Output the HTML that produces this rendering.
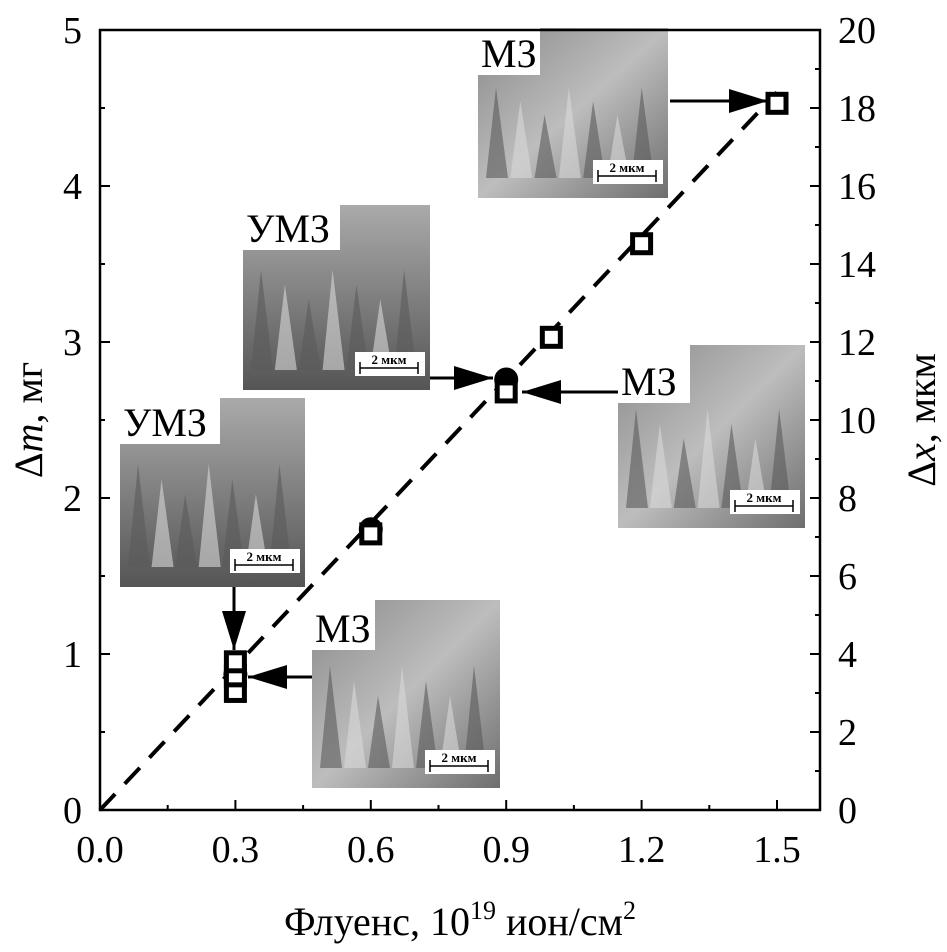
<!DOCTYPE html>
<html><head><meta charset="utf-8"><style>
body{margin:0;background:#fff}
svg{display:block;font-family:"Liberation Serif",serif}
</style></head><body>
<svg id="c" width="947" height="952" viewBox="0 0 947 952">
<defs>
<linearGradient id="g1" x1="0" y1="0" x2="1" y2="1"><stop offset="0" stop-color="#8a8a8a"/><stop offset="0.5" stop-color="#bdbdbd"/><stop offset="1" stop-color="#6e6e6e"/></linearGradient>
<linearGradient id="g2" x1="0" y1="0" x2="0" y2="1"><stop offset="0" stop-color="#aaa"/><stop offset="0.6" stop-color="#777"/><stop offset="1" stop-color="#555"/></linearGradient>
<marker id="ah" viewBox="0 0 10 10" refX="10" refY="5" markerWidth="13" markerHeight="8" orient="auto" markerUnits="strokeWidth" preserveAspectRatio="none"><path d="M0,0L10,5L0,10z" fill="#000"/></marker>
</defs>
<g id="insets"></g>
<g id="axes"></g>
<g id="marks"></g>
</svg>
<script>
const xTicks=[0.0,0.3,0.6,0.9,1.2,1.5];
const xTickLabels=["0.0","0.3","0.6","0.9","1.2","1.5"];
const yTicks=[0,1,2,3,4,5];
const y2Ticks=[0,2,4,6,8,10,12,14,16,18,20];
const sqX=[0.3,0.3,0.3,0.6,0.9,1.0,1.2,1.5];
const sqY=[0.76,0.86,0.95,1.77,2.68,3.03,3.63,4.53];
const ciX=[0.3,0.6,0.9];
const ciY=[0.87,1.8,2.76];
const fitX=[0,1.5];
const fitY=[0,4.6];
const NS="http://www.w3.org/2000/svg";
const X=v=>100+v*(677/1.5);
const Y=v=>810-v*156;
const Y2=v=>810-v*39;
function mk(t,a,p){const e=document.createElementNS(NS,t);for(const k in a)e.setAttribute(k,a[k]);p.appendChild(e);return e;}
const ax=document.getElementById('axes'),mg=document.getElementById('marks'),ins=document.getElementById('insets');
const defs=document.querySelector('defs');
const insetData=[[478,28,190,170,"МЗ",62,47,"g1"],[243,205,187,185,"УМЗ",97,45,"g2"],[618,345,187,183,"МЗ",72,58,"g1"],[120,398,185,189,"УМЗ",100,46,"g2"],[312,600,188,188,"МЗ",63,50,"g1"]];
insetData.forEach((d,i)=>{
 const cp=mk('clipPath',{id:'cp'+i},defs);
 mk('rect',{x:d[0],y:d[1],width:d[2],height:d[3]},cp);
 const g=mk('g',{'clip-path':'url(#cp'+i+')'},ins);
 
 
 mk('rect',{x:d[0],y:d[1],width:d[2],height:d[3],fill:'url(#'+d[7]+')'},g);
 for(let k=0;k<7;k++){const bx=d[0]+8+k*(d[2]-20)/7;const by=d[1]+d[3]*(0.35+0.08*(k%3));
  mk('path',{d:`M${bx},${d[1]+d[3]-20} L${bx+10},${by} L${bx+22},${d[1]+d[3]-20}z`,fill:k%2?'#d8d8d8':'#5a5a5a',opacity:0.6},g);}
 mk('rect',{x:d[0],y:d[1],width:d[5],height:d[6],fill:'#fff'},g);
 const t=mk('text',{x:d[0]+3,y:d[1]+d[6]-8,'font-size':40},g);t.textContent=d[4];
 const sx=d[0]+d[2]-70,sy=d[1]+d[3]-22;
 mk('rect',{x:sx-5,y:sy-16,width:70,height:24,fill:'#fff'},g);
 mk('path',{d:`M${sx},${sy} h58 M${sx},${sy-6} v12 M${sx+58},${sy-6} v12`,stroke:'#000','stroke-width':1.5},g);
 const s=mk('text',{x:sx+29,y:sy-4,'font-size':13,'font-weight':'bold','text-anchor':'middle'},g);s.textContent='2 мкм';
});
const fr=mk('rect',{x:100,y:30,width:720,height:780,fill:'none',stroke:'#000','stroke-width':2.5},ax);

xTicks.forEach((v,i)=>{mk('line',{x1:X(v),x2:X(v),y1:810,y2:800,stroke:'#000','stroke-width':2},ax);
 if(i<5)mk('line',{x1:X(v+0.15),x2:X(v+0.15),y1:810,y2:805,stroke:'#000','stroke-width':2},ax);
 const t=mk('text',{x:X(v),y:862,'font-size':38,'text-anchor':'middle'},ax);t.textContent=xTickLabels[i];
 });
yTicks.forEach(v=>{mk('line',{x1:100,x2:110,y1:Y(v),y2:Y(v),stroke:'#000','stroke-width':2},ax);
 if(v<5)mk('line',{x1:100,x2:105,y1:Y(v+0.5),y2:Y(v+0.5),stroke:'#000','stroke-width':2},ax);
 const t=mk('text',{x:82,y:Y(v)+13,'font-size':38,'text-anchor':'end'},ax);t.textContent=v;
 });
y2Ticks.forEach(v=>{mk('line',{x1:820,x2:810,y1:Y2(v),y2:Y2(v),stroke:'#000','stroke-width':2},ax);
 if(v<20)mk('line',{x1:820,x2:815,y1:Y2(v+1),y2:Y2(v+1),stroke:'#000','stroke-width':2},ax);
 const t=mk('text',{x:838,y:Y2(v)+13,'font-size':38},ax);t.textContent=v;
 });
const xt=mk('text',{x:460,y:935,'font-size':40,'text-anchor':'middle'},ax);
xt.innerHTML='Флуенс, 10<tspan font-size="26" dy="-16">19</tspan><tspan dy="16"> ион/см</tspan><tspan font-size="26" dy="-16">2</tspan>';

const yt=mk('text',{transform:'translate(42,420) rotate(-90)','font-size':40,'text-anchor':'middle'},ax);
yt.innerHTML='Δ<tspan font-style="italic">m</tspan>, мг';

const y2t=mk('text',{transform:'translate(935,420) rotate(-90)','font-size':40,'text-anchor':'middle'},ax);
y2t.innerHTML='Δ<tspan font-style="italic">x</tspan>, мкм';

const fl=mk('line',{x1:X(fitX[0]),y1:Y(fitY[0]),x2:X(fitX[1]),y2:Y(fitY[1]),stroke:'#000','stroke-width':4,'stroke-dasharray':'22 14'},mg);

ciX.forEach((v,i)=>{const c=mk('circle',{cx:X(v),cy:Y(ciY[i]),r:12,fill:'#000'},mg);
 });
sqX.forEach((v,i)=>{const r=mk('rect',{x:X(v)-9,y:Y(sqY[i])-9,width:18,height:18,fill:'#fff',stroke:'#000','stroke-width':5},mg);
 });
[[670,101,768,101],[430,378,493,378],[618,392,522,392],[234,587,234,650],[312,677,248,677]].forEach(a=>{
 const l=mk('line',{x1:a[0],y1:a[1],x2:a[2],y2:a[3],stroke:'#000','stroke-width':3,'marker-end':'url(#ah)'},mg);
 });
</script>
</body></html>
